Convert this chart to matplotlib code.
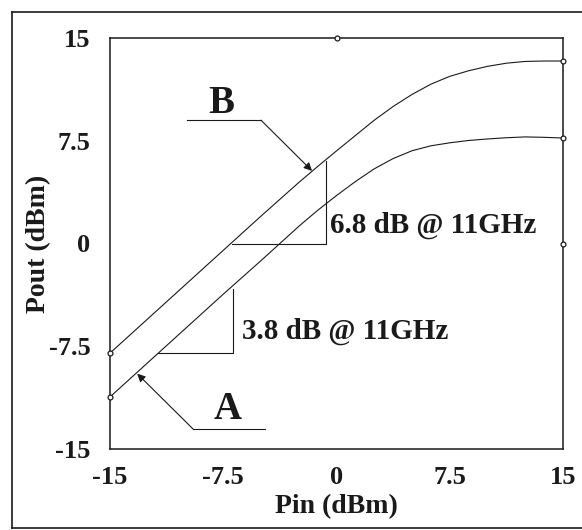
#!/usr/bin/env python3
import matplotlib

matplotlib.use("Agg")
import matplotlib.pyplot as plt
from matplotlib.lines import Line2D

# Curves (Pin in dBm -> Pout in dBm).
PIN = [-15, -12.5, -10, -7.5, -5, -2.5, -1.25, 0, 1.25, 2.5, 3.75, 5, 6.25,
       7.5, 8.75, 10, 11.25, 12.5, 13.75, 15]
POUT_B = [-8.0, -5.5, -3.0, -0.5, 2.0, 4.45, 5.62, 6.76, 7.88, 9.0, 10.0, 10.88,
          11.63, 12.2, 12.61, 12.93, 13.16, 13.29, 13.32, 13.32]
POUT_A = [-11.2, -8.7, -6.2, -3.7, -1.25, 1.25, 2.42, 3.5, 4.52, 5.45, 6.2, 6.77,
          7.13, 7.35, 7.52, 7.63, 7.72, 7.78, 7.75, 7.7]

TICKS = [-15, -7.5, 0, 7.5, 15]
TICK_LABELS = ["-15", "-7.5", "0", "7.5", "15"]
MINOR_TICKS = [-7.5, 0, 7.5]

# Annotation geometry (data coords).
TRI_B = ([-6.9, -0.7, -0.7], [0.0, 0.0, 6.0])
TRI_A = ([-11.8, -6.85, -6.85], [-8.0, -8.0, -3.3])
LEAD_B = ([-9.9, -5.0], [9.0, 9.0])
TIP_B = (-1.62, 5.3)
LEAD_A = ([-4.74, -9.5], [-13.54, -13.54])
TIP_A = (-13.2, -9.5)

FONT = "Liberation Serif"
INK = "#1a1a1a"
LW = 0.8


def main():
    plt.rcParams["font.family"] = FONT
    plt.rcParams["font.weight"] = "bold"
    fig = plt.figure(figsize=(5.82, 5.30), dpi=100)
    ax = fig.add_axes([110 / 582, 1 - 449 / 530, 453 / 582, 411 / 530])

    for ys in (POUT_B, POUT_A):
        ax.plot(PIN, ys, color=INK, linewidth=LW)
        ax.plot([PIN[0], PIN[-1]], [ys[0], ys[-1]], linestyle="none", marker="o",
                markersize=3.5, markerfacecolor="white", markeredgecolor=INK,
                markeredgewidth=0.9, clip_on=False, zorder=5)

    # stray markers on the frame
    ax.plot([0, 15], [15, 0], linestyle="none", marker="o", markersize=3.5,
            markerfacecolor="white", markeredgecolor=INK, markeredgewidth=0.9,
            clip_on=False, zorder=5)

    # slope triangles
    ax.plot(*TRI_B, color=INK, linewidth=LW)
    ax.plot(*TRI_A, color=INK, linewidth=LW)
    ax.text(-0.43, 0.77, "6.8 dB @ 11GHz", fontsize=21, fontweight="bold",
            va="baseline", ha="left", color=INK)
    ax.text(-6.26, -6.97, "3.8 dB @ 11GHz", fontsize=21, fontweight="bold",
            va="baseline", ha="left", color=INK)

    # curve labels with leaders
    ax.plot(*LEAD_B, color=INK, linewidth=LW)
    ax.annotate("", xy=TIP_B, xytext=(LEAD_B[0][1], LEAD_B[1][1]),
                arrowprops=dict(arrowstyle="-|>", color=INK, lw=LW,
                                mutation_scale=12, shrinkA=0, shrinkB=0))
    ax.plot(*LEAD_A, color=INK, linewidth=LW)
    ax.annotate("", xy=TIP_A, xytext=(LEAD_A[0][1], LEAD_A[1][1]),
                arrowprops=dict(arrowstyle="-|>", color=INK, lw=LW,
                                mutation_scale=12, shrinkA=0, shrinkB=0))
    ax.text(-7.65, 9.53, "B", fontsize=28, fontweight="bold", ha="center",
            va="baseline", color=INK)
    ax.text(-7.19, -12.8, "A", fontsize=28, fontweight="bold", ha="center",
            va="baseline", color=INK)

    ax.set_xlim(-15, 15)
    ax.set_ylim(-15, 15)
    ax.set_xticks(TICKS)
    ax.set_xticklabels(TICK_LABELS)
    ax.set_yticks(TICKS)
    ax.set_yticklabels(TICK_LABELS)
    ax.set_xticks(MINOR_TICKS, minor=True)
    ax.set_yticks(MINOR_TICKS, minor=True)
    ax.tick_params(which="major", length=0, labelsize=19, colors=INK)
    ax.tick_params(axis="x", which="major", pad=12)
    ax.tick_params(axis="y", which="major", pad=14)
    ax.tick_params(which="minor", direction="inout", length=11, width=0.9,
                   color=INK)
    for sp in ax.spines.values():
        sp.set_linewidth(1.1)
        sp.set_color(INK)

    ax.set_xlabel("Pin (dBm)", fontsize=20, fontweight="bold", labelpad=4,
                  color=INK)
    ax.set_ylabel("Pout (dBm)", fontsize=20, fontweight="bold", labelpad=-2,
                  color=INK)

    # outer frame of the scanned figure
    x0, x1 = 12 / 582, 1.01
    y0, y1 = 1 - 528 / 530, 1 - 12 / 530
    fig.add_artist(Line2D([x0, x1], [y1, y1], color=INK, linewidth=1.2))
    fig.add_artist(Line2D([x0, x0], [y0, y1], color=INK, linewidth=1.2))
    fig.add_artist(Line2D([x0, x1], [y0, y0], color=INK, linewidth=1.2))

    fig.savefig("out.png", dpi=100)


if __name__ == "__main__":
    main()
